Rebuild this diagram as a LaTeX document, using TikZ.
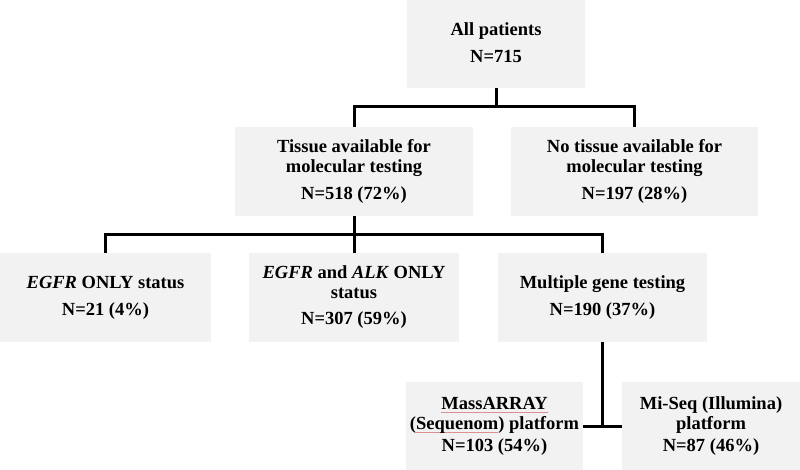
\documentclass[tikz,border=0pt]{standalone}
\usepackage{fontspec}
\setmainfont{Liberation Serif}
\definecolor{boxgray}{HTML}{F2F2F2}
\definecolor{spell}{HTML}{D99090}
\newsavebox\spellbox
\newcommand\spellul[1]{\leavevmode\sbox\spellbox{#1}\rlap{\textcolor{spell}{\rule[-0.2em]{\wd\spellbox}{0.6pt}}}\usebox\spellbox}
\begin{document}
\begin{tikzpicture}[x=1pt,y=-1pt,
  box/.style={fill=boxgray, inner sep=0pt, align=center,
    font=\fontsize{18.5}{20}\selectfont\bfseries},
  conn/.style={line width=3pt, black, line join=miter}]
\useasboundingbox (0,0) rectangle (800,470);
\node[box, minimum width=178pt, minimum height=90pt] (allp) at (496,43) {All patients\\[7pt]N=715};
\node[box, minimum width=238pt, minimum height=89pt] (tissue) at (354,171.5) {Tissue available for\\molecular testing\\[7pt]N=518 (72\%)};
\node[box, minimum width=247pt, minimum height=89pt] (notis) at (634.5,171.5) {No tissue available for\\molecular testing\\[7pt]N=197 (28\%)};
\node[box, minimum width=211pt, minimum height=89pt] (egfr) at (105.5,297.5) {\textit{EGFR} ONLY status\\[7pt]N=21 (4\%)};
\node[box, minimum width=210pt, minimum height=89pt] (egfralk) at (354,297.5) {\textit{EGFR} and \textit{ALK} ONLY\\status\\[6pt]N=307 (59\%)};
\node[box, minimum width=209pt, minimum height=89pt] (multi) at (602.5,297.5) {Multiple gene testing\\[7pt]N=190 (37\%)};
\node[box, minimum width=177pt, minimum height=88pt] (mass) at (494.5,426) {\spellul{MassARRAY}\\(\spellul{Sequenom}) platform\\[2pt]N=103 (54\%)};
\node[box, minimum width=178pt, minimum height=88pt] (miseq) at (711,426) {Mi-Seq (Illumina)\\platform\\[2pt]N=87 (46\%)};
% connectors
\draw[conn] (allp.south) -- ++(0,19);
\draw[conn] (tissue.north) -- ++(0,-20) -| (notis.north);
\draw[conn] (tissue.south) -- (egfralk.north);
\draw[conn] (egfr.north) -- ++(0,-18) -| (multi.north);
\draw[conn] (multi.south) -- (multi.south |- mass.east);
\draw[conn] (mass.east) -- (miseq.west);
\end{tikzpicture}
\end{document}
